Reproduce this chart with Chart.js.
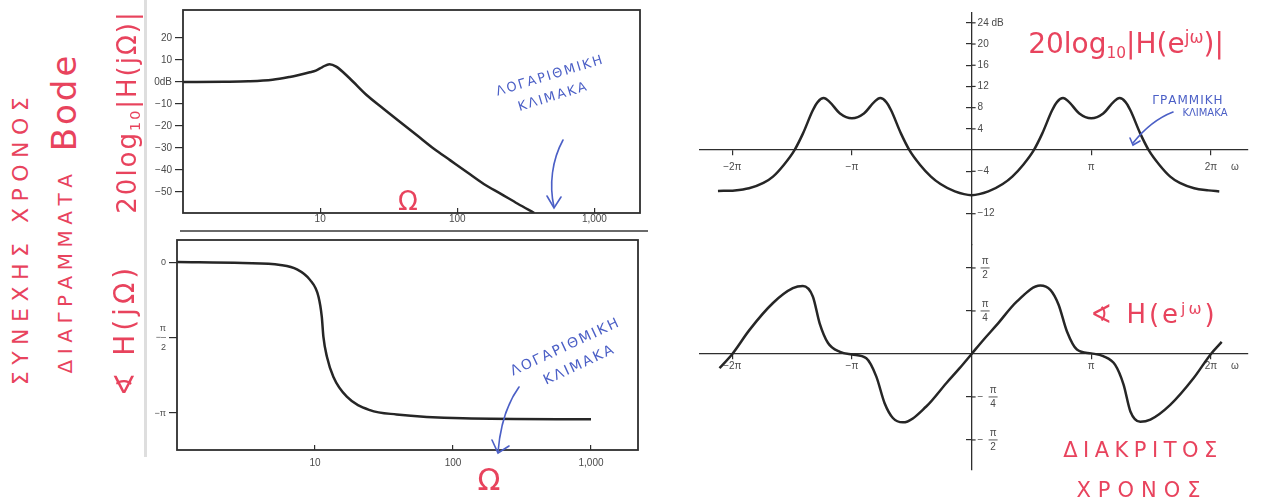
<!DOCTYPE html>
<html>
<head>
<meta charset="utf-8">
<title>Bode plots - continuous and discrete time</title>
<script src="https://cdn.jsdelivr.net/npm/chart.js"></script>
<style>
  html, body { margin: 0; padding: 0; background: #fff; }
  body { width: 1268px; height: 504px; position: relative; overflow: hidden; font-family: "DejaVu Sans", sans-serif; }
  canvas { position: absolute; }
  .note { position: absolute; white-space: nowrap; line-height: 1; transform: translate(-50%, -50%); }
  .up { transform: translate(-50%, -50%) rotate(-90deg); }
  .red { color: #e8435d; }
  .blue { color: #4b5fc6; }
  sub { font-size: 0.55em; vertical-align: -0.3em; }
  sup { font-size: 0.6em; vertical-align: 0.6em; }
  #marks { position: absolute; left: 0; top: 0; }
</style>
</head>
<body>
<div style="position:absolute;left:144px;top:0;width:3px;height:457px;background:#dedede"></div>
<div style="position:absolute;left:180px;top:230px;width:468px;height:2px;background:#6a6a6a"></div>

<canvas id="ctMag" width="520" height="240" style="left:130px;top:0"></canvas>
<canvas id="ctPhase" width="520" height="274" style="left:130px;top:230px"></canvas>
<canvas id="dtMag" width="578" height="250" style="left:690px;top:0"></canvas>
<canvas id="dtPhase" width="578" height="264" style="left:690px;top:240px"></canvas>

<!-- handwritten notes -->
<div class="note up red" style="left:21px;top:238px;font-size:22px;letter-spacing:6.5px">ΣΥΝΕΧΗΣ ΧΡΟΝΟΣ</div>
<div class="note up red" style="left:65px;top:271px;font-size:20px;letter-spacing:5.5px">ΔΙΑΓΡΑΜΜΑΤΑ</div>
<div class="note up red" style="left:64px;top:102px;font-size:34px;letter-spacing:3px">Bode</div>
<div class="note up red" style="left:128px;top:112px;font-size:26px;letter-spacing:2px">20log<sub>10</sub>|H(jΩ)|</div>
<div class="note up red" style="left:125px;top:330px;font-size:28px;letter-spacing:4px">∢ H(jΩ)</div>
<div class="note red" style="left:408px;top:201px;font-size:26px">Ω</div>
<div class="note red" style="left:489px;top:480px;font-size:30px">Ω</div>

<div class="note blue" style="left:550px;top:75px;font-size:13px;letter-spacing:2px;transform:translate(-50%,-50%) rotate(-17deg)">ΛΟΓΑΡΙΘΜΙΚΗ</div>
<div class="note blue" style="left:553px;top:96px;font-size:13px;letter-spacing:2px;transform:translate(-50%,-50%) rotate(-17deg)">ΚΛΙΜΑΚΑ</div>
<div class="note blue" style="left:565px;top:346px;font-size:14px;letter-spacing:2px;transform:translate(-50%,-50%) rotate(-25deg)">ΛΟΓΑΡΙΘΜΙΚΗ</div>
<div class="note blue" style="left:579px;top:364px;font-size:14px;letter-spacing:2px;transform:translate(-50%,-50%) rotate(-25deg)">ΚΛΙΜΑΚΑ</div>

<div class="note red" style="left:1126px;top:45px;font-size:28px">20log<sub>10</sub>|H(e<sup>jω</sup>)|</div>
<div class="note blue" style="left:1188px;top:100px;font-size:12px;letter-spacing:1px">ΓΡΑΜΜΙΚΗ</div>
<div class="note blue" style="left:1205px;top:113px;font-size:10px">ΚΛΙΜΑΚΑ</div>
<div class="note red" style="left:1154px;top:314px;font-size:26px;letter-spacing:3px">∢ H(e<sup>jω</sup>)</div>
<div class="note red" style="left:1143px;top:450px;font-size:21px;letter-spacing:5.5px">ΔΙΑΚΡΙΤΟΣ</div>
<div class="note red" style="left:1142px;top:490px;font-size:21px;letter-spacing:7px">ΧΡΟΝΟΣ</div>

<svg id="marks" width="1268" height="504" fill="none" stroke="#4b5fc6" stroke-width="1.6" stroke-linecap="round">
  <path d="M563,140 C552,160 549,185 554,207"/>
  <path d="M547,196 L554,208 L561,197"/>
  <path d="M519,387 C506,405 500,428 498,452"/>
  <path d="M492,440 L498,453 L509,446"/>
  <path d="M1173,112 C1160,117 1145,128 1133,143"/>
  <path d="M1130,138 L1133,145 L1140,141"/>
</svg>

<script>
// ---- continuous time (log frequency axis) ----
const ctMagOmega = [1, 2, 3, 4.5, 6, 7, 8.4, 9.3, 10.4, 11.7, 13.1, 16.4, 21.8, 28.8, 38.3, 50.8, 67.5, 89, 118, 156, 208, 276, 364];
const ctMagDb    = [0, 0.1, 0.3, 1.0, 2.3, 3.2, 4.4, 5.2, 6.8, 8.1, 7.0, 1.7, -5.9, -12.0, -18.2, -24.2, -30.3, -35.6, -41.0, -46.3, -50.8, -55.3, -59.5];

const ctPhaseOmega = [1, 3, 5.6, 7.4, 9.2, 10.6, 11.2, 11.5, 12.2, 13.6, 17, 25, 39, 118, 1000];
const ctPhaseRad   = [0, -0.02, -0.06, -0.15, -0.37, -0.72, -1.14, -1.55, -1.97, -2.39, -2.80, -3.08, -3.17, -3.25, -3.27];

const logTicks = [10, 100, 1000];
const logTickLabels = ['10', '100', '1,000'];
const dbTicks = [20, 10, 0, -10, -20, -30, -40, -50];
const dbTickLabels = ['20', '10', '0dB', '−10', '−20', '−30', '−40', '−50'];
const ctPhaseTicks = [0, -Math.PI / 2, -Math.PI];
const ctPhaseTickLabels = ['0', ['π', '−–', '2'], '−π'];

// ---- discrete time (omega in units of pi) ----
const dtOmega = [-2.12, -1.98, -1.86, -1.74, -1.66, -1.57, -1.48, -1.41, -1.327, -1.285, -1.236, -1.187, -1.10, -1.0,
  -0.90, -0.813, -0.764, -0.715, -0.673, -0.59, -0.52, -0.43, -0.34, -0.26, -0.14, 0,
  0.14, 0.26, 0.34, 0.43, 0.52, 0.59, 0.673, 0.715, 0.764, 0.813, 0.90, 1.0,
  1.10, 1.187, 1.236, 1.285, 1.327, 1.41, 1.48, 1.57, 1.66, 1.74, 1.86, 1.98, 2.07];
const dtMagDb = [-7.7, -7.6, -7.2, -6.2, -5.0, -2.8, 0, 3.1, 7.5, 9.1, 9.8, 9.1, 6.9, 6.0,
  6.9, 9.1, 9.8, 9.1, 7.5, 3.1, 0, -2.8, -5.0, -6.4, -7.8, -8.5,
  -7.8, -6.4, -5.0, -2.8, 0, 3.1, 7.5, 9.1, 9.8, 9.1, 6.9, 6.0,
  6.9, 9.1, 9.8, 9.1, 7.5, 3.1, 0, -2.8, -5.0, -6.2, -7.2, -7.6, -7.8];

const dtPhaseOmega = [-2.107, -2.0, -1.856, -1.66, -1.494, -1.41, -1.327, -1.27, -1.20, -1.10, -1.0, -0.88, -0.797, -0.727,
  -0.658, -0.574, -0.379, -0.21, -0.1, 0, 0.1, 0.21, 0.379, 0.574, 0.658, 0.727, 0.797, 0.88, 1.0,
  1.10, 1.20, 1.27, 1.327, 1.41, 1.494, 1.66, 1.856, 2.0, 2.09];
const dtPhaseRad = [-0.26, 0, 0.44, 0.93, 1.20, 1.24, 1.05, 0.56, 0.20, 0.04, -0.01, -0.08, -0.41, -0.90,
  -1.17, -1.25, -0.96, -0.53, -0.26, 0, 0.26, 0.53, 0.96, 1.25, 1.17, 0.90, 0.41, 0.08, 0.01,
  -0.04, -0.20, -0.56, -1.05, -1.24, -1.20, -0.93, -0.44, 0, 0.22];

const piTicks = [-2, -1, 1, 2, 2.2];
const piTickLabels = ['−2π', '−π', 'π', '2π', 'ω'];
const dtDbTicks = [24, 20, 16, 12, 8, 4, -4, -12];
const dtDbTickLabels = ['24 dB', '20', '16', '12', '8', '4', '−4', '−12'];
const dtPhaseTicks = [Math.PI / 2, Math.PI / 4, -Math.PI / 4, -Math.PI / 2];
const dtPhaseTickLabels = [['', 'π', '2'], ['', 'π', '4'], ['−', 'π', '4'], ['−', 'π', '2']];

const curveColor = '#262626';
const axisColor = '#2e2e2e';
const labelColor = '#4a4a4a';
const labelFont = { family: 'Liberation Sans', size: 10 };

// box around the plot area of the log plots
const frame = {
  id: 'frame',
  afterDraw(chart) {
    const { ctx, chartArea: a } = chart;
    ctx.save();
    ctx.strokeStyle = axisColor;
    ctx.lineWidth = 1.8;
    ctx.strokeRect(a.left, a.top, a.right - a.left, a.bottom - a.top);
    ctx.restore();
  }
};

// value labels to the right of a centred y axis
const sideTicks = {
  id: 'sideTicks',
  afterDraw(chart, args, opts) {
    if (!opts.values) return;
    const ctx = chart.ctx;
    const x0 = chart.scales.x.getPixelForValue(0);
    const ys = chart.scales.y;
    ctx.save();
    ctx.strokeStyle = axisColor;
    ctx.fillStyle = labelColor;
    ctx.textBaseline = 'middle';
    opts.values.forEach((v, i) => {
      const y = ys.getPixelForValue(v);
      const lab = opts.labels[i];
      ctx.lineWidth = 1.2;
      ctx.beginPath();
      ctx.moveTo(x0, y);
      ctx.lineTo(x0 + 4, y);
      ctx.stroke();
      if (Array.isArray(lab)) {
        ctx.font = '10px "Liberation Sans"';
        let x = x0 + 9;
        if (lab[0]) {
          ctx.textAlign = 'left';
          ctx.fillText(lab[0], x0 + 6, y);
          x = x0 + 17;
        }
        const w = 9;
        ctx.textAlign = 'center';
        ctx.fillText(lab[1], x + w / 2, y - 7);
        ctx.fillText(lab[2], x + w / 2, y + 7);
        ctx.lineWidth = 0.8;
        ctx.beginPath();
        ctx.moveTo(x, y);
        ctx.lineTo(x + w, y);
        ctx.stroke();
      } else {
        ctx.font = '10px "Liberation Sans"';
        ctx.textAlign = 'left';
        ctx.fillText(lab, x0 + 6, y);
      }
    });
    ctx.restore();
  }
};

function lineSet(xs, ys) {
  return {
    data: xs.map((x, i) => ({ x: x, y: ys[i] })),
    borderColor: curveColor,
    borderWidth: 2.5,
    pointRadius: 0,
    cubicInterpolationMode: 'monotone'
  };
}

function logChart(id, xs, ys, o) {
  return new Chart(document.getElementById(id), {
    type: 'line',
    data: { datasets: [lineSet(xs, ys)] },
    options: {
      responsive: false,
      animation: false,
      events: [],
      layout: { padding: { top: o.padTop, right: o.padRight, left: 0, bottom: 0 } },
      plugins: { legend: { display: false }, tooltip: { enabled: false } },
      scales: {
        x: {
          type: 'logarithmic', min: 1, max: o.xMax,
          afterFit: s => { s.height = o.xHeight; },
          afterBuildTicks: s => { s.ticks = logTicks.map(v => ({ value: v })); },
          ticks: { callback: v => logTickLabels[logTicks.indexOf(v)], color: labelColor, font: labelFont,
                   padding: o.xPad, maxRotation: 0, autoSkip: false },
          grid: { drawOnChartArea: false, tickLength: -5, color: axisColor, lineWidth: 1.2 },
          border: { display: false }
        },
        y: {
          min: o.yMin, max: o.yMax,
          afterFit: s => { s.width = o.yWidth; },
          afterBuildTicks: s => { s.ticks = o.yTicks.map(v => ({ value: v })); },
          ticks: { callback: v => o.yLabels[o.yTicks.indexOf(v)], color: labelColor, font: o.yFont || labelFont,
                   padding: 3, autoSkip: false },
          grid: { drawOnChartArea: false, tickLength: 8, color: axisColor, lineWidth: 1.2 },
          border: { display: false }
        }
      }
    },
    plugins: [frame]
  });
}

function centredChart(id, xs, ys, o) {
  return new Chart(document.getElementById(id), {
    type: 'line',
    data: { datasets: [lineSet(xs, ys)] },
    options: {
      responsive: false,
      animation: false,
      events: [],
      layout: { padding: { top: o.padTop, right: 20, left: 10, bottom: o.padBottom } },
      plugins: {
        legend: { display: false }, tooltip: { enabled: false },
        sideTicks: { values: o.yTicks, labels: o.yLabels }
      },
      scales: {
        x: {
          type: 'linear', min: -2.27, max: 2.31, position: { y: 0 },
          afterFit: s => { s.height = 0; },
          afterBuildTicks: s => { s.ticks = piTicks.map(v => ({ value: v })); },
          ticks: { callback: v => piTickLabels[piTicks.indexOf(v)], color: labelColor, font: labelFont,
                   padding: o.xPad, maxRotation: 0, autoSkip: false },
          grid: { drawOnChartArea: false, tickLength: 5, lineWidth: 1.2,
                  tickColor: c => (c.tick && c.tick.value === 2.2) ? 'rgba(0,0,0,0)' : axisColor },
          border: { color: axisColor, width: 1.3 }
        },
        y: {
          min: o.yMin, max: o.yMax, position: { x: 0 },
          afterFit: s => { s.width = 0; },
          afterBuildTicks: s => { s.ticks = o.yTicks.map(v => ({ value: v })); },
          ticks: { display: false },
          grid: { drawOnChartArea: false, tickLength: 5, color: axisColor, lineWidth: 1.2 },
          border: { color: axisColor, width: 1.3 }
        }
      }
    },
    plugins: [sideTicks]
  });
}

logChart('ctMag', ctMagOmega, ctMagDb, {
  padTop: 10, padRight: 10, xMax: 2150, xHeight: 27, xPad: 5, yWidth: 53,
  yMin: -59.5, yMax: 32.7, yTicks: dbTicks, yLabels: dbTickLabels
});

logChart('ctPhase', ctPhaseOmega, ctPhaseRad, {
  padTop: 10, padRight: 12, xMax: 2190, xHeight: 54, xPad: 12, yWidth: 47,
  yMin: -3.91, yMax: 0.46, yTicks: ctPhaseTicks, yLabels: ctPhaseTickLabels,
  yFont: { family: 'Liberation Sans', size: 9, lineHeight: 1.05 }
});

centredChart('dtMag', dtOmega, dtMagDb, {
  padTop: 13, padBottom: 5, xPad: 6, yMin: -17.9, yMax: 25.85, yTicks: dtDbTicks, yLabels: dtDbTickLabels
});

centredChart('dtPhase', dtPhaseOmega, dtPhaseRad, {
  padTop: 5, padBottom: 34, xPad: 1, yMin: -2.12, yMax: 1.99, yTicks: dtPhaseTicks, yLabels: dtPhaseTickLabels
});
</script>
</body>
</html>
